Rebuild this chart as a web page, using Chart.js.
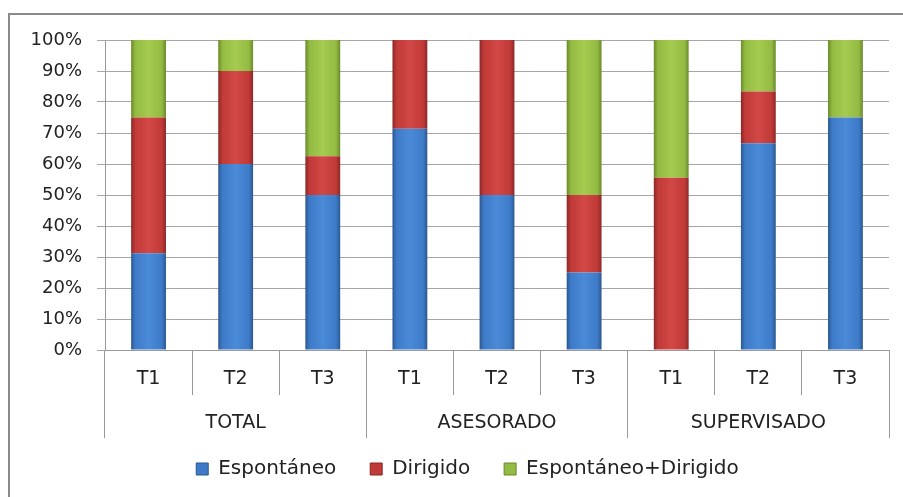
<!DOCTYPE html>
<html>
<head>
<meta charset="utf-8">
<script src="https://cdn.jsdelivr.net/npm/chart.js@4"></script>
<style>
  html, body { margin: 0; padding: 0; background: #fff; overflow: hidden; }
  #wrap { position: relative; width: 903px; height: 497px; }
  #frame { position: absolute; left: 8px; top: 13px; width: 1000px; height: 1000px;
           border-left: 2px solid #8a8a8a; border-top: 2px solid #8a8a8a; pointer-events: none; }
  canvas { position: absolute; left: 0; top: 0; }
</style>
</head>
<body>
<div id="wrap">
  <canvas id="c" width="903" height="497"></canvas>
  <div id="frame"></div>
</div>
<script>
const periods = ['T1','T2','T3','T1','T2','T3','T1','T2','T3'];
const groups = ['TOTAL','ASESORADO','SUPERVISADO'];
const seriesNames = ['Espontáneo','Dirigido','Espontáneo+Dirigido'];
const espontaneo = [31.25, 60, 50, 71.4, 50, 25, 0, 66.7, 75];
const dirigido = [43.75, 30, 12.5, 28.6, 50, 25, 55.6, 16.7, 0];
const espDir = [25, 10, 37.5, 0, 0, 50, 44.4, 16.6, 25];
const yTicks = [0,10,20,30,40,50,60,70,80,90,100];

const palettes = [
  {edge:'#2b5890', mid:'#3d7bc8', light:'#4b8ad6', solid:'#3c78c3'},
  {edge:'#8c2727', mid:'#c03a38', light:'#d24846', solid:'#c0393a'},
  {edge:'#6a8a2a', mid:'#93ba42', light:'#a5cb50', solid:'#92b843'}
];

function grad(p) {
  return function(ctx) {
    const chart = ctx.chart;
    const ca = chart.chartArea;
    if (!ca || !chart.scales.x) return p.solid;
    const w = (ca.right - ca.left) / periods.length * 0.4;
    const x = chart.scales.x.getPixelForValue(ctx.dataIndex);
    const g = chart.ctx.createLinearGradient(x - w/2, 0, x + w/2, 0);
    g.addColorStop(0, p.edge);
    g.addColorStop(0.12, p.mid);
    g.addColorStop(0.5, p.light);
    g.addColorStop(0.88, p.mid);
    g.addColorStop(1, p.edge);
    return g;
  };
}

const FONT = 'DejaVu Sans';
const TXT = '#222';

const legendShift = {
  id: 'legendShift',
  afterLayout(chart) {
    const l = chart.legend;
    if (l) { l.left += 23; l.right += 23; l.top -= 8; l.bottom -= 8; }
  }
};

new Chart(document.getElementById('c'), {
  type: 'bar',
  data: {
    labels: periods,
    datasets: [espontaneo, dirigido, espDir].map((d, i) => ({
      label: seriesNames[i],
      data: d,
      backgroundColor: grad(palettes[i]),
      borderColor: palettes[i].edge,
      borderWidth: 0,
      barPercentage: 0.4,
      categoryPercentage: 1.0,
      xAxisID: 'x',
      yAxisID: 'y'
    }))
  },
  plugins: [legendShift],
  options: {
    responsive: false,
    animation: false,
    events: [],
    layout: { padding: { left: 0, right: 14, top: 40, bottom: 0 } },
    plugins: {
      tooltip: { enabled: false },
      legend: {
        position: 'bottom',
        labels: {
          color: TXT,
          font: { family: FONT, size: 20 },
          boxWidth: 12,
          boxHeight: 12,
          padding: 34,
          generateLabels(chart) {
            return chart.data.datasets.map((ds, i) => ({
              text: ds.label,
              fillStyle: palettes[i].mid,
              strokeStyle: palettes[i].edge,
              lineWidth: 1,
              fontColor: TXT,
              datasetIndex: i,
              hidden: false
            }));
          }
        }
      }
    },
    scales: {
      x: {
        type: 'category',
        stacked: true,
        offset: true,
        border: { display: true, color: '#999', width: 1 },
        grid: { display: true, offset: true, drawOnChartArea: false, drawTicks: true, tickLength: 45, color: '#999' },
        ticks: { color: TXT, font: { family: FONT, size: 19 }, padding: -27, maxRotation: 0, autoSkip: false },
        afterFit(scale) { scale.height = 45; }
      },
      x2: {
        type: 'category',
        labels: groups,
        position: 'bottom',
        offset: true,
        border: { display: false },
        grid: { display: true, offset: true, drawOnChartArea: false, drawTicks: true, tickLength: 43, color: '#999' },
        ticks: { color: TXT, font: { family: FONT, size: 19 }, padding: -26, maxRotation: 0, autoSkip: false },
        afterFit(scale) { scale.height = 38; }
      },
      y: {
        stacked: true,
        min: 0,
        max: 100,
        afterBuildTicks(scale) { scale.ticks = yTicks.map(v => ({ value: v })); },
        border: { display: true, color: '#999', width: 1 },
        grid: { color: '#a6a6a6', tickLength: 8, drawTicks: true },
        ticks: { color: TXT, font: { family: FONT, size: 18 }, padding: 15, callback: v => v + '%' },
        afterFit(scale) { scale.width = 105; }
      }
    }
  }
});
</script>
</body>
</html>
